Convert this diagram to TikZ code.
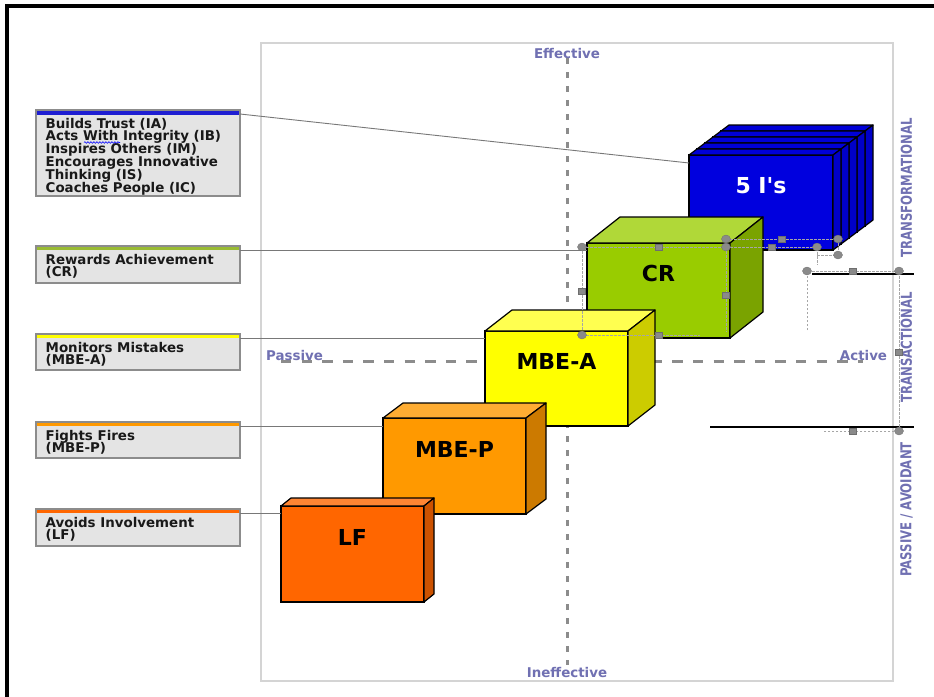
\documentclass[tikz,border=0pt]{standalone}
\usepackage{fontspec}
\setmainfont{DejaVu Sans}
\newfontfamily\rawfont{DejaVu Sans}
\usetikzlibrary{calc,decorations.pathmorphing}
\newcommand\tightlines{\lineskiplimit=-20pt\relax\lineskip=0pt\relax}
\definecolor{axisblue}{RGB}{112,112,178}
\definecolor{boxfill}{RGB}{228,228,228}
\definecolor{boxborder}{RGB}{140,140,140}
\definecolor{dashgray}{RGB}{140,140,140}
\definecolor{framegray}{RGB}{212,212,212}
\definecolor{handlegray}{RGB}{138,138,138}
\definecolor{conngray}{RGB}{120,120,120}
\definecolor{fiblue}{RGB}{0,0,222}
\definecolor{fitop}{RGB}{0,0,215}
\definecolor{fiside}{RGB}{0,0,200}
\definecolor{crfront}{RGB}{153,204,0}
\definecolor{crtop}{RGB}{176,216,56}
\definecolor{crside}{RGB}{122,163,0}
\definecolor{mafront}{RGB}{255,255,0}
\definecolor{matop}{RGB}{255,255,80}
\definecolor{maside}{RGB}{204,204,0}
\definecolor{mpfront}{RGB}{255,153,0}
\definecolor{mptop}{RGB}{255,173,51}
\definecolor{mpside}{RGB}{204,122,0}
\definecolor{lffront}{RGB}{255,102,0}
\definecolor{lftop}{RGB}{255,133,51}
\definecolor{lfside}{RGB}{204,82,0}
\definecolor{barblue}{RGB}{30,30,210}
\definecolor{bargreen}{RGB}{153,187,51}
\definecolor{baryellow}{RGB}{255,255,0}
\definecolor{barorange}{RGB}{255,153,0}
\definecolor{bardark}{RGB}{255,102,0}
\tikzset{
  lbox/.style={draw=boxborder, fill=boxfill, line width=1.3pt, minimum width=204pt,
    anchor=north west, inner sep=0pt, outer sep=0pt},
  ltext/.style={anchor=north west, inner sep=0pt, align=left,
    font=\bfseries\fontsize{13.4}{12.8}\selectfont\tightlines, text=black!90},
  front/.style={draw=black, line width=1.2pt, minimum width=143pt, minimum height=95pt,
    anchor=north west, inner sep=0pt, outer sep=0pt},
  cubelabel/.style={font=\rawfont\bfseries\fontsize{22}{24}\selectfont, inner sep=0pt},
  axislabel/.style={text=axisblue, font=\bfseries\fontsize{13.4}{14}\selectfont, inner sep=0pt},
  sidelabel/.style={text=axisblue, rotate=90, font=\bfseries\fontsize{15}{16}\selectfont, inner sep=0pt},
  conn/.style={draw=conngray, line width=0.9pt},
  hdash/.style={draw=black!35, line width=0.7pt, dash pattern=on 2.5pt off 1.5pt},
  handle/.style={fill=handlegray, draw=handlegray!80!black, line width=0.3pt},
  sepline/.style={draw=black, line width=1.4pt}
}
\newcommand\cubefaces[5]{%
  \filldraw[fill=#4, draw=black, line width=1.2pt, line join=round]
    (#1.north west) -- ($(#1.north west)+(#2,-#3)$) -- ($(#1.north east)+(#2,-#3)$) -- (#1.north east) -- cycle;
  \filldraw[fill=#5, draw=black, line width=1.2pt, line join=round]
    (#1.north east) -- ($(#1.north east)+(#2,-#3)$) -- ($(#1.south east)+(#2,-#3)$) -- (#1.south east) -- cycle;}
\newcommand\hndc[2]{\filldraw[handle] (#1,#2) ellipse[x radius=4.5pt, y radius=4pt];}
\newcommand\hnds[2]{\filldraw[handle] (#1,#2) ++(-3.5pt,-3pt) rectangle ++(7pt,6pt);}
\begin{document}
\begin{tikzpicture}[x=1pt,y=-1pt]
\useasboundingbox[fill=white] (0,0) rectangle (934,696);
% outer black frame
\draw[line width=3.8pt] (7.2,697) -- (7.2,5.6) -- (935,5.6);
% inner grey frame
\draw[framegray, line width=2pt] (260.5,43.3) rectangle (893,681);
% axes
\draw[dashgray, line width=3pt, dash pattern=on 6pt off 8pt] (567,58) -- (567,665);
\draw[dashgray, line width=3pt, dash pattern=on 10.3pt off 10.3pt] (281,361) -- (863,361);
% axis labels
\node[axislabel] (eff) at (567,54) {Effective};
\node[axislabel] (ineff) at (567,672) {Ineffective};
\node[axislabel] (pas) at (294.5,355) {Passive};
\node[axislabel] (act) at (863.5,355) {Active};
% side labels
\node[sidelabel] (tf) at (906.5,188) {\scalebox{0.78}[1]{TRANSFORMATIONAL}};
\node[sidelabel] (ta) at (906.5,347.5) {\scalebox{0.78}[1]{TRANSACTIONAL}};
\node[sidelabel] (pa) at (906.5,509.5) {\scalebox{0.78}[1]{PASSIVE / AVOIDANT}};
% separator lines
\draw[sepline] (812,274) -- (914,274);
\draw[sepline] (710,427) -- (914,427);
% 5 I's stack
\foreach \k in {4,3,2,1}{
  \node[front, fill=fiblue, minimum width=144pt] (fi\k) at ({689+8*\k},{155-6*\k}) {};
  \cubefaces{fi\k}{8}{6}{fitop}{fiside}
}
\node[front, fill=fiblue, minimum width=144pt] (fi) at (689,155) {};
\cubefaces{fi}{8}{6}{fitop}{fiside}
\node[cubelabel, text=white] (fit) at ([yshift=17pt]fi.center) {5 I's};
% CR
\node[front, fill=crfront] (cr) at (587,243) {};
\cubefaces{cr}{33}{26}{crtop}{crside}
\node[cubelabel] (crt) at ([yshift=17pt]cr.center) {CR};
% MBE-A
\node[front, fill=mafront] (ma) at (485,331) {};
\cubefaces{ma}{27}{21}{matop}{maside}
\node[cubelabel] (mat) at ([yshift=17pt]ma.center) {MBE-A};
% MBE-P
\node[front, fill=mpfront, minimum height=96pt] (mp) at (383,418) {};
\cubefaces{mp}{20}{15}{mptop}{mpside}
\node[cubelabel] (mpt) at ([yshift=17pt]mp.center) {MBE-P};
% LF
\node[front, fill=lffront, minimum height=96pt] (lf) at (281,506) {};
\cubefaces{lf}{10}{8}{lftop}{lfside}
\node[cubelabel] (lft) at ([yshift=17pt]lf.center) {LF};
% label boxes
\node[lbox, minimum height=86pt] (lb1) at (36,110) {};
\node[lbox, minimum height=37pt] (lb2) at (36,246) {};
\node[lbox, minimum height=36pt] (lb3) at (36,334) {};
\node[lbox, minimum height=36pt] (lb4) at (36,422) {};
\node[lbox, minimum height=37pt] (lb5) at (36,509) {};
\fill[barblue] ([shift={(0.7pt,-0.7pt)}]lb1.north west) rectangle ([shift={(-0.7pt,-4.5pt)}]lb1.north east);
\fill[bargreen] ([shift={(0.7pt,-0.7pt)}]lb2.north west) rectangle ([shift={(-0.7pt,-4pt)}]lb2.north east);
\fill[baryellow] ([shift={(0.7pt,-0.7pt)}]lb3.north west) rectangle ([shift={(-0.7pt,-4pt)}]lb3.north east);
\fill[barorange] ([shift={(0.7pt,-0.7pt)}]lb4.north west) rectangle ([shift={(-0.7pt,-4pt)}]lb4.north east);
\fill[bardark] ([shift={(0.7pt,-0.7pt)}]lb5.north west) rectangle ([shift={(-0.7pt,-4pt)}]lb5.north east);
\node[ltext] (lt1) at (45.5,117.8) {Builds Trust (IA)\\Acts With Integrity (IB)\\Inspires Others (IM)\\Encourages Innovative\\Thinking (IS)\\Coaches People (IC)};
\node[ltext] (lt2) at (45.5,253.8) {Rewards Achievement\\(CR)};
\node[ltext] (lt3) at (45.5,341.8) {Monitors Mistakes\\(MBE-A)};
\node[ltext] (lt4) at (45.5,429.8) {Fights Fires\\(MBE-P)};
\node[ltext] (lt5) at (45.5,516.8) {Avoids Involvement\\(LF)};
\draw[blue, line width=0.6pt, decorate, decoration={snake, amplitude=0.8pt, segment length=3pt}] (84,142.5) -- (120,142.5);
% connectors
\draw[conn] ([yshift=-4pt]lb1.north east) -- ([yshift=-8pt]fi.north west);
\draw[conn] ([yshift=-4pt]lb2.north east) coordinate (c2) -- (c2 -| cr.west);
\draw[conn] ([yshift=-4pt]lb3.north east) coordinate (c3) -- (c3 -| ma.west);
\draw[conn] ([yshift=-4pt]lb4.north east) coordinate (c4) -- (c4 -| mp.west);
\draw[conn] ([yshift=-4pt]lb5.north east) coordinate (c5) -- (c5 -| lf.west);
% selection handle traces
\draw[hdash] (582,247) -- (726,247);
\draw[hdash] (582,247) -- (582,335) -- (700,335);
\draw[hdash] (726,247) -- (726,332);
\draw[hdash] (726,239) -- (838,239) -- (838,250);
\draw[hdash] (726,247) -- (817,247) -- (817,265);
\draw[hdash] (817,255) -- (838,255);
\draw[hdash] (807,330) -- (807,271) -- (899,271) -- (899,431) -- (823,431);
\hndc{582}{247} \hnds{659}{247} \hndc{726}{247} \hnds{582}{291} \hnds{726}{295}
\hndc{582}{335} \hnds{659}{335}
\hndc{726}{239} \hnds{782}{239} \hndc{838}{239}
\hnds{772}{247} \hndc{817}{247} \hndc{838}{255}
\hndc{807}{271} \hnds{853}{271} \hndc{899}{271} \hnds{899}{352}
\hnds{853}{431} \hndc{899}{431}
\end{tikzpicture}
\end{document}
